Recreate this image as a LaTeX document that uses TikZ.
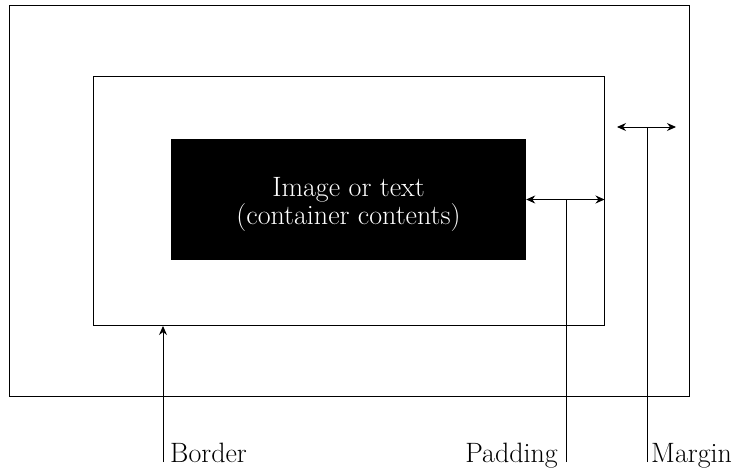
\documentclass[tikz,border=0pt]{standalone}
\usepackage{tikz}
\usetikzlibrary{arrows.meta, positioning, calc}

\begin{document}
\begin{tikzpicture}[x=1pt, y=-1pt,
    frame/.style={rectangle, draw, line width=1pt,
                  inner sep=0pt},
    contents/.style={rectangle, fill=black, inner sep=0pt},
    boxtext/.style={text=white, inner sep=0pt, align=center,
                    font=\fontsize{28}{24}\selectfont},
    lbl/.style={inner sep=0pt,
                font=\fontsize{28}{30}\selectfont},
    arr/.style={line width=0.9pt},
    tip/.style={-{Stealth[length=9pt, width=8pt]}, line width=0.9pt},
    both/.style={{Stealth[length=9pt, width=8pt]}-{Stealth[length=9pt, width=8pt]},
                 line width=0.9pt}
]
    \useasboundingbox (0,0) rectangle (734,468);

    % the three boxes
    \node[frame, minimum width=680pt, minimum height=390pt]
        (outer) at (349,201) {};
    \node[frame, minimum width=511pt, minimum height=249pt]
        (inner) at (348.5,201) {};
    \node[contents, minimum width=355pt, minimum height=121pt]
        (box) at (348.5,199.5) {};
    \node[boxtext] (boxlabel) at ([yshift=-5pt]box.center)
        {Image or text\\(container contents)};

    % feet of the label lines
    \coordinate (bordfoot) at (163,462);
    \coordinate (padfoot)  at (566,462);
    \coordinate (margfoot) at (647,462);
    \coordinate (margl) at (617,127);
    \coordinate (margr) at (676,127);

    % labels
    \node[lbl, anchor=base west, xshift=7pt] (border) at (bordfoot) {Border};
    \node[lbl, anchor=base east, xshift=-8pt] (padding) at (padfoot) {Padding};
    \node[lbl, anchor=base west, xshift=4pt] (margin) at (margfoot) {Margin};

    % connectors
    \draw[tip] (bordfoot) -- (bordfoot |- inner.south);
    \draw[both] (box.east) -- (box.east -| inner.east);
    \draw[arr] (padfoot) -- (padfoot |- box.east);
    \draw[both] (margl) -- (margr);
    \draw[arr] (margfoot) -- (margfoot |- margl);
\end{tikzpicture}
\end{document}
